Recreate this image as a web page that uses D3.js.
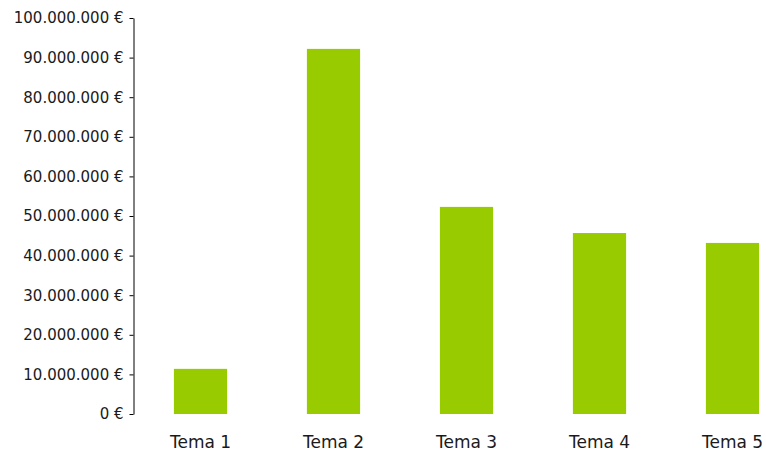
<!DOCTYPE html>
<html><head><meta charset="utf-8">
<script src="https://cdn.jsdelivr.net/npm/d3@7"></script>
<style>body{margin:0;background:#fff}svg{display:block}</style>
</head><body>
<svg id="c" width="766" height="450"></svg>
<script>
const categories = ["Tema 1","Tema 2","Tema 3","Tema 4","Tema 5"];
const values = [11400000, 92200000, 52300000, 45700000, 43200000];
const yTicks = [0,10000000,20000000,30000000,40000000,50000000,60000000,70000000,80000000,90000000,100000000];

const svg = d3.select("#c");
const font = "'DejaVu Sans', Verdana, sans-serif";
const x = d3.scaleBand().domain(categories).range([134, 799]).paddingInner(0.6).paddingOuter(0.3);
const y = d3.scaleLinear().domain([0, 100000000]).range([414, 18]);

const fmt = v => d3.format(",")(v).replace(/,/g, ".") + " €";

svg.selectAll("rect.bar").data(values).enter().append("rect")
  .attr("class","bar")
  .attr("x",(d,i)=>x(categories[i]))
  .attr("width",x.bandwidth())
  .attr("y",d=>y(d))
  .attr("height",d=>y(0)-y(d))
  .attr("fill","#99cc00");

const ya = svg.append("g").attr("transform","translate(133.5,0)")
  .call(d3.axisLeft(y).tickValues(yTicks).tickFormat(fmt).tickSize(4).tickPadding(6).tickSizeOuter(0));
ya.select(".domain").attr("stroke","#000");
ya.selectAll(".tick line").attr("stroke","#000");
ya.selectAll("text").attr("font-family",font).attr("font-size","15px").attr("fill","#1a1a1a");

svg.selectAll("text.cat").data(categories).enter().append("text")
  .attr("class","cat")
  .attr("x",d=>x(d)+x.bandwidth()/2)
  .attr("y",447.5)
  .attr("text-anchor","middle")
  .attr("font-family",font).attr("font-size","17px").attr("fill","#1a1a1a")
  .text(d=>d);
</script>
</body></html>
